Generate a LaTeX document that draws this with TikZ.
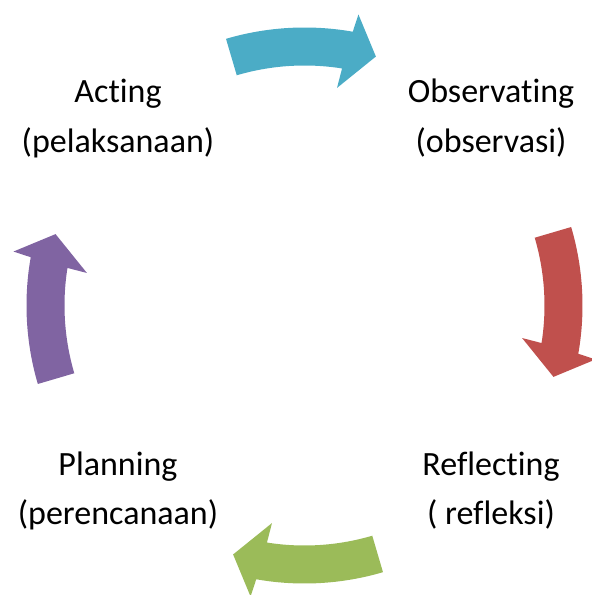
\documentclass[tikz,border=0pt]{standalone}
\usepackage{fontspec}
\setmainfont[Ligatures=NoCommon]{Carlito}
\usepackage{tikz}
\definecolor{cycleblue}{HTML}{4BACC6}
\definecolor{cyclered}{HTML}{C0504D}
\definecolor{cyclegreen}{HTML}{9BBB59}
\definecolor{cyclepurple}{HTML}{8064A2}

\begin{document}
\begin{tikzpicture}[x=1pt,y=1pt]
		\useasboundingbox (0,0) rectangle (592,595);
		\coordinate (C) at (304.5,289.5);

		\begin{scope}[shift={(C)}]
		    \foreach \ang/\col in {90/cycleblue, 0/cyclered, 270/cyclegreen, 180/cyclepurple}
		        \fill[\col] ({\ang+16.4}:278) arc[start angle=\ang+16.4, end angle=\ang-10, radius=278]
		            -- ({\ang-10.5}:296) -- ({\ang-16}:259) -- ({\ang-8.5}:220) -- ({\ang-9}:240)
		            arc[start angle=\ang-9, end angle=\ang+16.4, radius=240] -- cycle;
		\end{scope}

		\begin{scope}[every node/.style={align=center,anchor=base,inner sep=0pt,
		              font=\fontsize{34}{50}\selectfont}]
		    \node (act) at (118,442) {Acting\\(pelaksanaan)};
		    \node (obs) at (491,442) {Observating\\(observasi)};
		    \node (ref) at (491,70) {Reflecting\\( refleksi)};
		    \node (pla) at (118,70) {Planning\\(perencanaan)};
		\end{scope}
\end{tikzpicture}
\end{document}
